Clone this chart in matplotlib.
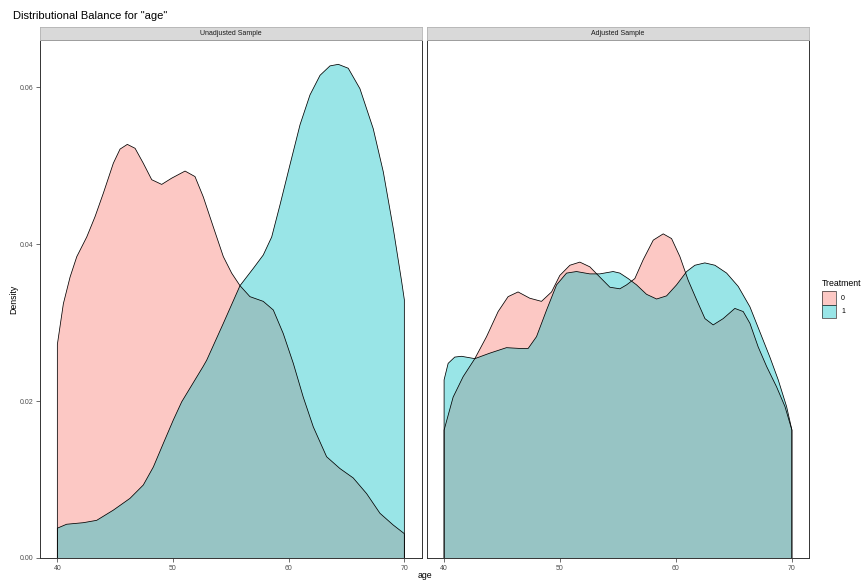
import matplotlib.pyplot as plt
from matplotlib.patches import Rectangle

plt.rcParams['font.family'] = ['Liberation Sans', 'DejaVu Sans']

# density of age, unadjusted sample
age_unadj_0 = [40.0, 40.52, 41.1, 41.68, 42.54, 43.26, 43.98, 44.84, 45.42, 46.05, 46.72, 47.43,
               48.16, 49.02, 49.89, 51.04, 51.9, 52.62, 53.48, 54.35, 55.07, 55.79, 56.65, 57.8,
               58.67, 59.53, 60.4, 61.26, 62.13, 63.28, 64.43, 65.58, 66.74, 67.89, 69.04, 70.0]
dens_unadj_0 = [0.0272, 0.0324, 0.0358, 0.0384, 0.0409, 0.0435, 0.0465, 0.0503, 0.0521, 0.0527, 0.0522, 0.0503,
                0.0482, 0.0476, 0.0484, 0.0493, 0.0486, 0.0460, 0.0422, 0.0384, 0.0363, 0.0347, 0.0333, 0.0327,
                0.0316, 0.0286, 0.0248, 0.0205, 0.0167, 0.0129, 0.0114, 0.0102, 0.0082, 0.0057, 0.0042, 0.0031]

age_unadj_1 = [40.0, 40.8, 42.25, 43.4, 44.84, 46.28, 47.43, 48.3, 49.16, 50.03, 50.75, 52.6, 52.91,
               54.35, 55.79, 56.94, 57.8, 58.53, 59.25, 60.11, 60.98, 61.84, 62.71, 63.57, 64.29, 65.15,
               66.16, 67.31, 68.18, 69.04, 69.77, 70.0]
dens_unadj_1 = [0.0038, 0.0043, 0.0045, 0.0048, 0.0061, 0.0076, 0.0093, 0.0116, 0.0146, 0.0176, 0.0199, 0.0244, 0.0252,
                0.0299, 0.0347, 0.0369, 0.0386, 0.0409, 0.0450, 0.0501, 0.0552, 0.0590, 0.0615, 0.0627, 0.0629, 0.0624,
                0.0598, 0.0547, 0.0492, 0.0420, 0.0352, 0.0329]

# density of age, adjusted sample
age_adj_0 = [40.0, 40.78, 41.64, 42.65, 43.66, 44.66, 45.52, 46.38, 47.39, 48.4, 49.27, 49.98, 50.85,
             51.71, 52.57, 53.43, 54.3, 55.16, 55.74, 56.45, 57.17, 58.04, 58.9, 59.62, 60.34, 61.05,
             61.78, 62.5, 63.21, 64.07, 65.08, 65.8, 66.38, 67.09, 67.82, 68.68, 69.4, 70.0]
dens_adj_0 = [0.0163, 0.0205, 0.0231, 0.0254, 0.0282, 0.0314, 0.0333, 0.0339, 0.0331, 0.0327, 0.0339, 0.0360, 0.0373,
              0.0377, 0.0371, 0.0358, 0.0345, 0.0343, 0.0348, 0.0356, 0.0380, 0.0405, 0.0413, 0.0407, 0.0384, 0.0354,
              0.0329, 0.0305, 0.0297, 0.0305, 0.0318, 0.0314, 0.0299, 0.0269, 0.0244, 0.0218, 0.0193, 0.0163]

age_adj_1 = [40.0, 40.35, 40.92, 41.5, 42.65, 43.94, 45.38, 46.53, 47.25, 47.97, 48.84, 49.7, 50.56,
             51.42, 52.57, 53.43, 54.58, 55.16, 55.88, 56.6, 57.46, 58.33, 59.19, 60.05, 60.92, 61.63,
             62.49, 63.36, 64.37, 65.37, 66.38, 67.24, 68.1, 68.82, 69.54, 70.0]
dens_adj_1 = [0.0227, 0.0248, 0.0256, 0.0257, 0.0254, 0.0261, 0.0268, 0.0267, 0.0267, 0.0282, 0.0316, 0.0348, 0.0363,
              0.0365, 0.0362, 0.0362, 0.0365, 0.0363, 0.0356, 0.0348, 0.0336, 0.0330, 0.0334, 0.0348, 0.0365, 0.0373,
              0.0376, 0.0373, 0.0363, 0.0346, 0.0320, 0.0288, 0.0256, 0.0227, 0.0193, 0.0163]

panel_names = ['Unadjusted Sample', 'Adjusted Sample']
treatments = ['0', '1']
colors = ['#F8766D', '#00BFC4']
x_ticks = [40, 50, 60, 70]
y_ticks = [0.00, 0.02, 0.04, 0.06]

W, H = 865, 583
fig = plt.figure(figsize=(W / 100, H / 100), dpi=100)


def rect(x0, y0, x1, y1):
    # pixel box (top-left origin) -> figure fraction
    return [x0 / W, 1 - y1 / H, (x1 - x0) / W, (y1 - y0) / H]


def density(ax, x, y, color):
    xs = [x[0]] + list(x) + [x[-1]]
    ys = [0] + list(y) + [0]
    ax.fill(xs, ys, facecolor=color, alpha=0.4, edgecolor='none')
    ax.plot(xs, ys, color='black', lw=0.55)


panels = [
    (40, 421.7, [(age_unadj_0, dens_unadj_0), (age_unadj_1, dens_unadj_1)]),
    (426.7, 809.3, [(age_adj_0, dens_adj_0), (age_adj_1, dens_adj_1)]),
]

for i, (x0, x1, curves) in enumerate(panels):
    ax = fig.add_axes(rect(x0, 40, x1, 558))
    for (xa, ya), c in zip(curves, colors):
        density(ax, xa, ya, c)
    ax.set_xlim(38.5, 71.5)
    ax.set_ylim(0, 0.066)
    ax.set_xticks(x_ticks)
    ax.set_yticks(y_ticks)
    ax.set_yticklabels(['%.2f' % v for v in y_ticks])
    ax.tick_params(length=3, width=0.5, color='#333333', labelsize=5, labelcolor='#4D4D4D', pad=2)
    if i == 1:
        ax.tick_params(axis='y', left=False, labelleft=False)
    for s in ax.spines.values():
        s.set_color('#333333')
        s.set_linewidth(0.7)

    # facet strip
    sx = fig.add_axes(rect(x0, 26.7, x1, 39.5))
    sx.set_xticks([])
    sx.set_yticks([])
    sx.set_facecolor('#D9D9D9')
    for s in sx.spines.values():
        s.set_color('#B3B3B3')
        s.set_linewidth(0.6)
    sx.text(0.5, 0.5, panel_names[i], ha='center', va='center', fontsize=5, color='#1A1A1A',
            transform=sx.transAxes)

fig.text(13 / W, 1 - 16 / H, 'Distributional Balance for "age"', fontsize=8, va='center', ha='left')
fig.text(14 / W, 1 - 299 / H, 'Density', fontsize=6.3, rotation=90, va='center', ha='center')
fig.text(424.5 / W, 1 - 575 / H, 'age', fontsize=6.3, va='center', ha='center')

# legend
fig.text(822 / W, 1 - 283.5 / H, 'Treatment', fontsize=6.3, va='center', ha='left')
for k, (lab, c) in enumerate(zip(treatments, colors)):
    ytop = 291.3 + k * 13.7
    fig.patches.append(Rectangle((822 / W, 1 - (ytop + 13.4) / H), 13.6 / W, 13.4 / H,
                                 transform=fig.transFigure, facecolor=c, alpha=0.4, edgecolor='none'))
    fig.patches.append(Rectangle((822 / W, 1 - (ytop + 13.4) / H), 13.6 / W, 13.4 / H,
                                 transform=fig.transFigure, facecolor='none', edgecolor='#333333', lw=0.5))
    fig.text(841 / W, 1 - (ytop + 6.9) / H, lab, fontsize=5, va='center', ha='left')

fig.savefig('out.png', dpi=100, facecolor='white')
